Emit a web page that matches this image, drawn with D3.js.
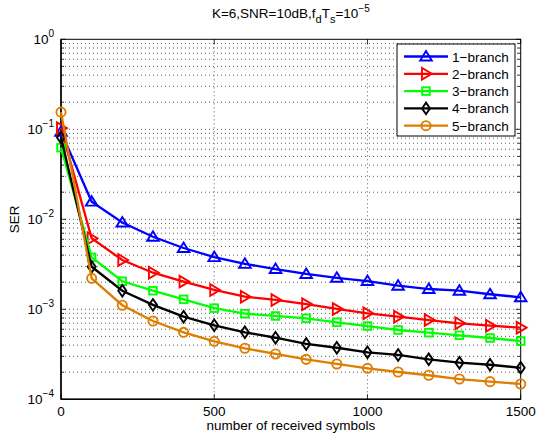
<!DOCTYPE html>
<html><head><meta charset="utf-8">
<script src="https://cdn.jsdelivr.net/npm/d3@7"></script>
<style>body{margin:0;background:#fff}svg{display:block}text{font-family:"Liberation Sans",Arial,sans-serif;fill:#000}</style>
</head><body><svg id="c" width="536" height="435"></svg>
<script>
const symbols = [0,100,200,300,400,500,600,700,800,900,1000,1100,1200,1300,1400,1500];
const branch1 = [0.094,0.0157,0.0092,0.0064,0.0048,0.0038,0.0032,0.0028,0.00247,0.00224,0.00206,0.00183,0.00168,0.00161,0.00147,0.00136];
const branch2 = [0.103,0.00615,0.00353,0.00255,0.00203,0.00164,0.00138,0.00127,0.00114,0.00101,0.000903,0.000828,0.00076,0.000699,0.000657,0.000625];
const branch3 = [0.0625,0.00378,0.00205,0.00161,0.00129,0.00103,0.000894,0.000843,0.000794,0.000717,0.000652,0.000589,0.00055,0.000514,0.00048,0.000444];
const branch4 = [0.081,0.00297,0.00161,0.00112,0.000828,0.000664,0.000555,0.000483,0.000412,0.000374,0.000333,0.000311,0.000278,0.000255,0.000242,0.000224];
const branch5 = [0.155,0.00221,0.00111,0.000741,0.000555,0.000441,0.000369,0.000319,0.000278,0.000247,0.000221,0.000201,0.000185,0.000168,0.000157,0.000148];
const seriesNames = ["1\u2212branch","2\u2212branch","3\u2212branch","4\u2212branch","5\u2212branch"];
const xTicks = [0,500,1000,1500];
const yTickExps = [-4,-3,-2,-1,0];

const colors = ["#0000ff","#ff0000","#00ff00","#000000","#de7d00"];
const shapes = ["tri","right","square","diamond","circle"];
const data = [branch1,branch2,branch3,branch4,branch5];

const L=61,R=520.7,T=39.3,B=399.3;
const svg=d3.select("#c");
const x=d3.scaleLinear().domain([0,1500]).range([L,R]);
const y=d3.scaleLog().domain([1e-4,1]).range([B,T]);

// grid
const g=svg.append("g");
const minor=[];
for(let e=-4;e<0;e++){for(let m=1;m<10;m++){minor.push(m*Math.pow(10,e));}}
minor.push(1);
g.selectAll("line.hg").data(minor.filter(v=>v>1e-4&&v<1)).enter().append("line")
 .attr("x1",L).attr("x2",R).attr("y1",d=>y(d)).attr("y2",d=>y(d))
 .attr("stroke","#333").attr("stroke-width",0.8).attr("stroke-dasharray","1,3");
g.selectAll("line.vg").data([500,1000]).enter().append("line")
 .attr("x1",d=>x(d)).attr("x2",d=>x(d)).attr("y1",T).attr("y2",B)
 .attr("stroke","#333").attr("stroke-width",0.8).attr("stroke-dasharray","1,3");

// ticks (inward)
const tk=svg.append("g").attr("stroke","#000").attr("stroke-width",0.8);
minor.forEach(v=>{
  const len = Math.abs(Math.log10(v)-Math.round(Math.log10(v)))<1e-9 ? 5 : 3;
  tk.append("line").attr("x1",L).attr("x2",L+len).attr("y1",y(v)).attr("y2",y(v));
  tk.append("line").attr("x1",R).attr("x2",R-len).attr("y1",y(v)).attr("y2",y(v));
});
xTicks.forEach(v=>{
  tk.append("line").attr("x1",x(v)).attr("x2",x(v)).attr("y1",B).attr("y2",B-5);
  tk.append("line").attr("x1",x(v)).attr("x2",x(v)).attr("y1",T).attr("y2",T+5);
});
svg.append("rect").attr("x",L).attr("y",T).attr("width",R-L).attr("height",B-T)
 .attr("fill","none").attr("stroke","#000").attr("stroke-width",1);
svg.append("line").attr("x1",L).attr("x2",R).attr("y1",B).attr("y2",B).attr("stroke","#000").attr("stroke-width",1.5);
svg.append("line").attr("x1",L).attr("x2",L).attr("y1",T).attr("y2",B).attr("stroke","#000").attr("stroke-width",1.5);

// tick labels
xTicks.forEach(v=>{
  svg.append("text").attr("x",x(v)).attr("y",B+17).attr("text-anchor","middle").attr("font-size",13.5).text(v);
});
yTickExps.forEach(e=>{
  const t=svg.append("text").attr("x",54).attr("y",y(Math.pow(10,e))+5).attr("text-anchor","end").attr("font-size",13.5);
  t.append("tspan").text("10");
  t.append("tspan").attr("dy",-7).attr("font-size",10).text(e===0?"0":"\u2212"+(-e));
});
svg.append("text").attr("x",(L+R)/2).attr("y",430).attr("text-anchor","middle").attr("font-size",13.5).text("number of received symbols");
svg.append("text").attr("transform",`translate(${19},${y(0.01)}) rotate(-90)`).attr("text-anchor","middle").attr("font-size",13.5).text("SER");

// title
const tt=svg.append("text").attr("x",(L+R)/2).attr("y",18).attr("text-anchor","middle").attr("font-size",13.5);
tt.append("tspan").text("K=6,SNR=10dB,f");
tt.append("tspan").attr("dy",5).attr("font-size",11).text("d");
tt.append("tspan").attr("dy",-5).text("T");
tt.append("tspan").attr("dy",5).attr("font-size",11).text("s");
tt.append("tspan").attr("dy",-5).text("=10");
tt.append("tspan").attr("dy",-6).attr("font-size",10).text("\u22125");

function marker(sel,shape,color){
  const s=5;
  let p;
  if(shape==="circle") p=sel.append("circle").attr("r",4.6);
  else if(shape==="square") p=sel.append("rect").attr("x",-3.8).attr("y",-3.8).attr("width",7.6).attr("height",7.6);
  else if(shape==="tri") p=sel.append("path").attr("d",`M0,${-s-0.5}L${s+0.8},${s-1}L${-s-0.8},${s-1}Z`);
  else if(shape==="right") p=sel.append("path").attr("d",`M${s+0.8},0L${-s+1},${-s-0.8}L${-s+1},${s+0.8}Z`);
  else if(shape==="diamond") p=sel.append("path").attr("d",`M0,${-s-0.8}L${s-1},0L0,${s+0.8}L${-s+1},0Z`);
  p.attr("fill","none").attr("stroke",color).attr("stroke-width",1.9);
}

const plot=svg.append("g");
const line=d3.line().x((d,i)=>x(symbols[i])).y(d=>y(d));
data.forEach((ser,k)=>{
  plot.append("path").attr("d",line(ser)).attr("fill","none").attr("stroke",colors[k]).attr("stroke-width",2.3);
  ser.forEach((v,i)=>{
    const m=plot.append("g").attr("transform",`translate(${x(symbols[i])},${y(v)})`);
    marker(m,shapes[k],colors[k]);
  });
});

// legend
const lg=svg.append("g");
lg.append("rect").attr("x",397).attr("y",44).attr("width",118).attr("height",92).attr("fill","#fff").attr("stroke","#000").attr("stroke-width",1);
seriesNames.forEach((n,k)=>{
  const cy=56.5+k*17.3;
  lg.append("line").attr("x1",404).attr("x2",448).attr("y1",cy).attr("y2",cy).attr("stroke",colors[k]).attr("stroke-width",2.3);
  const m=lg.append("g").attr("transform",`translate(426,${cy})`);
  marker(m,shapes[k],colors[k]);
  lg.append("text").attr("x",452).attr("y",cy+5).attr("font-size",13.5).text(n);
});
</script></body></html>
